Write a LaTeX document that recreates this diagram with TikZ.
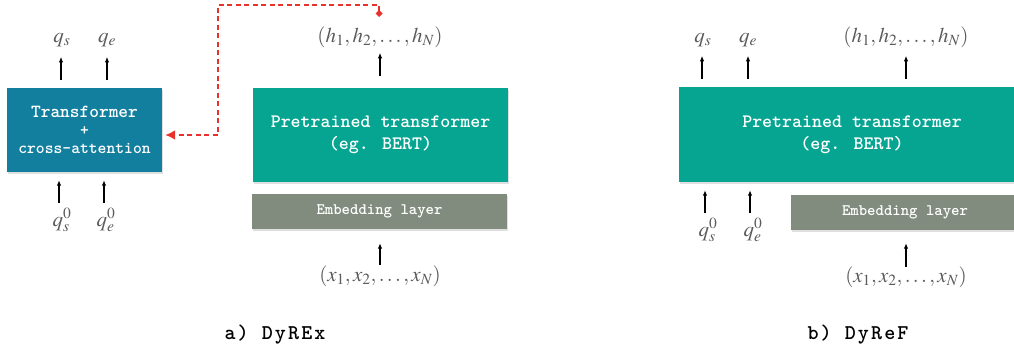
\documentclass[tikz,border=0pt]{standalone}
\usepackage{mathptmx}
\usepackage{fontspec}
\usetikzlibrary{arrows.meta,shadows}
\newfontfamily\boxmono{lmmonolt10-bold.otf}
\newfontfamily\capmono[LetterSpace=10.0]{lmmonolt10-bold.otf}
\definecolor{tfblue}{HTML}{137F9F}
\definecolor{ptteal}{HTML}{06A592}
\definecolor{embgray}{HTML}{818C7F}
\definecolor{mathgray}{HTML}{5A5A5A}
\definecolor{dashred}{HTML}{E8312A}
\tikzset{
  boxshadow/.style={drop shadow={opacity=0.25,shadow xshift=0.6pt,shadow yshift=-1.5pt}},
  tfbox/.style={fill=tfblue,text=white,align=center,inner sep=0pt,boxshadow,font=\boxmono\fontsize{16.8}{18}\selectfont},
  ptbox/.style={fill=ptteal,text=white,align=center,inner sep=0pt,boxshadow,font=\boxmono\fontsize{19}{22}\selectfont},
  embbox/.style={fill=embgray,text=white,align=center,inner sep=0pt,boxshadow,font=\boxmono\fontsize{16}{18}\selectfont},
  mlabel/.style={text=mathgray,inner sep=0pt,font=\fontsize{21}{24}\selectfont},
  uparrow/.style={-{Latex[length=5.5pt,width=4.5pt]},line width=1.3pt,black},
  reddash/.style={{Diamond[length=7pt,width=7pt]}-{Latex[length=10pt,width=10pt]},line width=1.8pt,dashred,dash pattern=on 5pt off 3.5pt},
  caption/.style={inner sep=0pt,font=\capmono\fontsize{21}{24}\selectfont}
}
\begin{document}
\begin{tikzpicture}[x=1pt,y=-1pt]
\useasboundingbox (0,0) rectangle (1014,349);
% ---------- left panel (a) ----------
\node[tfbox,minimum width=155pt,minimum height=84pt] (tf) at (84.5,130)
  {{\fontsize{18.5}{18}\selectfont Transformer}\\+\\cross-attention};
\node[ptbox,minimum width=255pt,minimum height=94pt] (ptA) at (380.5,135)
  {Pretrained transformer\\(eg. BERT)};
\node[embbox,minimum width=255pt,minimum height=35pt] (embA) at (379.5,211.5) {Embedding layer};
\node[mlabel] (qsA) at (62,40) {$q_s$};
\node[mlabel] (qeA) at (107,40) {$q_e$};
\node[mlabel] (qs0A) at (62,220) {$q_s^0$};
\node[mlabel] (qe0A) at (106,220) {$q_e^0$};
\node[mlabel] (hA) at (380,37) {$(h_1,h_2,\ldots,h_N)$};
\node[mlabel] (xA) at (380,276) {$(x_1,x_2,\ldots,x_N)$};
\draw[uparrow] ([yshift=8pt]tf.north -| 61,0) -- ([yshift=31pt]tf.north -| 61,0);
\draw[uparrow] ([yshift=8pt]tf.north -| 107,0) -- ([yshift=31pt]tf.north -| 107,0);
\draw[uparrow] ([yshift=-31pt]tf.south -| 59,0) -- ([yshift=-8pt]tf.south -| 59,0);
\draw[uparrow] ([yshift=-31pt]tf.south -| 104,0) -- ([yshift=-8pt]tf.south -| 104,0);
\draw[uparrow] ([yshift=12pt]ptA.north -| hA) -- ([yshift=35pt]ptA.north -| hA);
\draw[uparrow] ([yshift=-36pt]embA.south -| xA) -- ([yshift=-14pt]embA.south -| xA);
\coordinate (hdot) at (379,17);
\coordinate (rturn) at (218,5);
\draw[reddash] (hdot) |- (rturn) |- ([yshift=-5pt,xshift=3pt]tf.east);
\node[caption] (capA) at (275,335) {a) DyREx};
% ---------- right panel (b) ----------
\node[ptbox,minimum width=346pt,minimum height=95pt] (ptB) at (852,134.5)
  {Pretrained transformer\\(eg. BERT)};
\node[embbox,minimum width=228pt,minimum height=35pt] (embB) at (905,212.5) {Embedding layer};
\node[mlabel] (qsB) at (703,40) {$q_s$};
\node[mlabel] (qeB) at (748,40) {$q_e$};
\node[mlabel] (qs0B) at (708,230) {$q_s^0$};
\node[mlabel] (qe0B) at (753,230) {$q_e^0$};
\node[mlabel] (hB) at (906,37) {$(h_1,h_2,\ldots,h_N)$};
\node[mlabel] (xB) at (906,277) {$(x_1,x_2,\ldots,x_N)$};
\draw[uparrow] ([yshift=8pt]ptB.north -| 702,0) -- ([yshift=31pt]ptB.north -| 702,0);
\draw[uparrow] ([yshift=8pt]ptB.north -| 748,0) -- ([yshift=31pt]ptB.north -| 748,0);
\draw[uparrow] ([yshift=8pt]ptB.north -| hB) -- ([yshift=31pt]ptB.north -| hB);
\draw[uparrow] ([yshift=-31pt]ptB.south -| 705,0) -- ([yshift=-8pt]ptB.south -| 705,0);
\draw[uparrow] ([yshift=-31pt]ptB.south -| 750,0) -- ([yshift=-8pt]ptB.south -| 750,0);
\draw[uparrow] ([yshift=-37pt]embB.south -| xB) -- ([yshift=-13pt]embB.south -| xB);
\node[caption] (capB) at (858,335) {b) DyReF};
\end{tikzpicture}
\end{document}
